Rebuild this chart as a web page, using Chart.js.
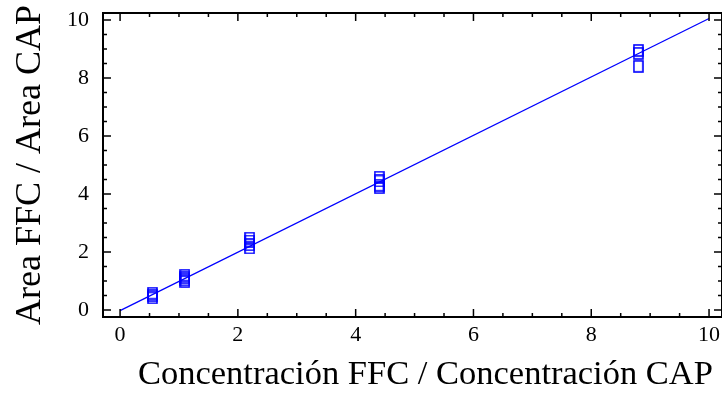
<!DOCTYPE html>
<html>
<head>
<meta charset="utf-8">
<script src="https://cdn.jsdelivr.net/npm/chart.js@4"></script>
<style>
  html, body { margin: 0; padding: 0; background: #fff; }
  #wrap { width: 722px; height: 398px; }
</style>
</head>
<body>
<div id="wrap"><canvas id="calib"></canvas></div>
<script>
// Calibration data - ratio of concentrations vs ratio of areas
const concLevels = [0.55, 1.1, 2.2, 4.4, 8.8];
const areaReplicates = [
    [0.58, 0.50, 0.42],
    [1.20, 1.12, 1.04, 0.98],
    [2.48, 2.38, 2.25, 2.14],
    [4.58, 4.45, 4.30, 4.22],
    [8.95, 8.85, 8.40]
];
const fitLineX = [0, 10];
const fitLineY = [-0.02, 10.05];
const majorTicks = [0, 2, 4, 6, 8, 10];

const blue = 'rgb(0,0,255)';
const serif = "'Liberation Serif', 'Times New Roman', serif";

// points as {x, y}
const scatterPoints = [];
concLevels.forEach((c, i) => {
    areaReplicates[i].forEach(v => scatterPoints.push({ x: c, y: v }));
});
const linePoints = fitLineX.map((x, i) => ({ x: x, y: fitLineY[i] }));

// open rectangle marker (a bit taller than wide)
function makeRectMarker() {
    const c = document.createElement('canvas');
    c.width = 11;
    c.height = 13;
    const g = c.getContext('2d');
    g.strokeStyle = blue;
    g.lineWidth = 1.6;
    g.strokeRect(1, 1, 9, 11);
    return c;
}

// frame + inward major/minor ticks on all four sides
const frameTicks = {
    id: 'frameTicks',
    afterDraw(chart) {
        const { ctx, chartArea: a, scales } = chart;
        const xs = scales.x, ys = scales.y;
        ctx.save();
        ctx.strokeStyle = '#000';
        ctx.lineWidth = 2;
        ctx.strokeRect(a.left, a.top, a.right - a.left, a.bottom - a.top);
        ctx.lineWidth = 1.5;
        ctx.beginPath();
        for (let v = 0; v <= 10.001; v += 0.5) {
            const major = Math.abs(v % 2) < 0.001;
            const len = major ? 8 : 4;
            const px = xs.getPixelForValue(v);
            const py = ys.getPixelForValue(v);
            ctx.moveTo(px, a.bottom); ctx.lineTo(px, a.bottom - len);
            ctx.moveTo(px, a.top); ctx.lineTo(px, a.top + len);
            ctx.moveTo(a.left, py); ctx.lineTo(a.left + len, py);
            ctx.moveTo(a.right, py); ctx.lineTo(a.right - len, py);
        }
        ctx.stroke();
        ctx.restore();
    }
};

const ctx = document.getElementById('calib').getContext('2d');
new Chart(ctx, {
    type: 'scatter',
    data: {
        datasets: [
            {
                label: 'Datos',
                data: scatterPoints,
                pointStyle: makeRectMarker(),
                pointRadius: 5,
                borderColor: blue,
                backgroundColor: 'transparent'
            },
            {
                type: 'line',
                label: 'Ajuste',
                data: linePoints,
                borderColor: blue,
                borderWidth: 1.3,
                pointRadius: 0,
                fill: false
            }
        ]
    },
    options: {
        responsive: true,
        maintainAspectRatio: false,
        animation: false,
        layout: {
            autoPadding: false,
            padding: { top: 13, right: 0, bottom: 0, left: 0 }
        },
        plugins: {
            legend: { display: false },
            tooltip: { enabled: false }
        },
        scales: {
            x: {
                type: 'linear',
                min: -0.29,
                max: 10.22,
                afterBuildTicks: (scale) => {
                    scale.ticks = majorTicks.map(v => ({ value: v }));
                },
                afterFit: (scale) => {
                    scale.height = 81;
                    scale.paddingLeft = 0;
                    scale.paddingRight = 0;
                },
                grid: { drawOnChartArea: false, drawTicks: false },
                border: { display: false },
                ticks: {
                    color: '#000',
                    padding: 5,
                    maxRotation: 0,
                    font: { family: serif, size: 22 }
                },
                title: {
                    display: true,
                    // leading spaces nudge the centred title to the right, as in the original
                    text: '   Concentración FFC / Concentración CAP',
                    color: '#000',
                    padding: { top: 0, bottom: 2 },
                    font: { family: serif, size: 34.5 }
                }
            },
            y: {
                type: 'linear',
                min: -0.24,
                max: 10.24,
                afterBuildTicks: (scale) => {
                    scale.ticks = majorTicks.map(v => ({ value: v }));
                },
                afterFit: (scale) => {
                    scale.width = 103;
                    scale.paddingTop = 0;
                    scale.paddingBottom = 0;
                },
                grid: { drawOnChartArea: false, drawTicks: false },
                border: { display: false },
                ticks: {
                    color: '#000',
                    padding: 14,
                    font: { family: serif, size: 22 }
                },
                title: {
                    display: true,
                    text: 'Area FFC / Area CAP',
                    color: '#000',
                    padding: { top: 9, bottom: 0 },
                    font: { family: serif, size: 36 }
                }
            }
        }
    },
    plugins: [frameTicks]
});
</script>
</body>
</html>
